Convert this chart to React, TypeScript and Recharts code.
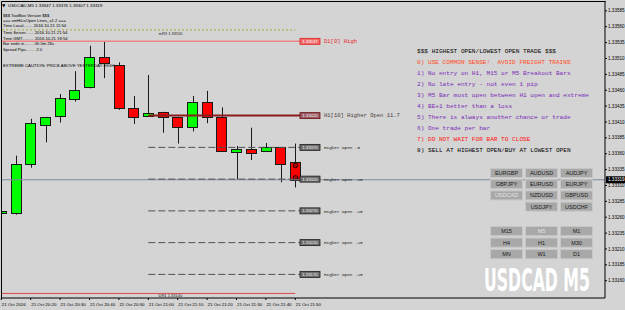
import React from 'react';
import { ComposedChart, Bar, XAxis, YAxis, ReferenceLine, ReferenceDot } from 'recharts';

const symbol = 'USDCAD';
const period = 'M5';
const times = ['20:10','20:15','20:20','20:25','20:30','20:35','20:40','20:45','20:50','20:55','21:00','21:05','21:10','21:15','21:20','21:25','21:30','21:35','21:40','21:45','21:50'];
const opens  = [1.33267,1.33267,1.33344,1.33406,1.33418,1.33447,1.33465,1.33513,1.33500,1.33432,1.33419,1.33426,1.33418,1.33402,1.33441,1.33418,1.33364,1.33367,1.33364,1.33370,1.33347];
const highs  = [1.33272,1.33357,1.33415,1.33418,1.33454,1.33490,1.33530,1.33537,1.33504,1.33451,1.33484,1.33426,1.33418,1.33451,1.33459,1.33433,1.33372,1.33401,1.33377,1.33370,1.33376];
const lows   = [1.33264,1.33264,1.33338,1.33378,1.33409,1.33442,1.33463,1.33479,1.33429,1.33407,1.33419,1.33393,1.33376,1.33395,1.33408,1.33365,1.33319,1.33350,1.33364,1.33315,1.33307];
const closes = [1.33270,1.33344,1.33409,1.33418,1.33447,1.33461,1.33513,1.33504,1.33432,1.33418,1.33424,1.33418,1.33402,1.33441,1.33418,1.33365,1.33368,1.33361,1.33370,1.33344,1.33319];

const xTicks = [0,2,4,6,8,10,12,14,16,18,20];
const xTickLabels = ['21 Oct 2016','21 Oct 20:20','21 Oct 20:30','21 Oct 20:40','21 Oct 20:50','21 Oct 21:00','21 Oct 21:10','21 Oct 21:20','21 Oct 21:30','21 Oct 21:40','21 Oct 21:50'];
const yTicks = [1.33160,1.33185,1.33210,1.33235,1.33260,1.33285,1.33310,1.33335,1.33360,1.33385,1.33410,1.33435,1.33460,1.33485,1.33510,1.33535,1.33560,1.33585];

const mR3 = 1.33555;
const d1High = 1.33537;
const h1Open = 1.33420;
const h1Label = 'H1[10] Higher Open 11.7';
const higherOpens = [1.33370,1.33320,1.33270,1.33220,1.33170];
const higherLabels = ['Higher Open -5','Higher Open -10','Higher Open -15','Higher Open -20','Higher Open -25'];
const dr1 = 1.33140;
const bid = 1.33319;
const h1StartBar = 10;
const lineEndBar = 20.32;
const lastBar = 20;

const infoLines = ['$$$ ToolBox Version $$$','=== smHiLoOpen Lines_v1.2 ===','Time Local........ 2016.10.21 11:54','Time Server....... 2016.10.21 21:54','Time GMT.......... 2016.10.21 18:54','Bar ends in........ 0h 0m 26s','Spread Pips........ 2.0'];
const cautionText = 'EXTREME CAUTION: PRICE ABOVE YESTERDAY HIGH';
const rules = ['$$$ HIGHEST OPEN/LOWEST OPEN TRADE $$$','0) USE COMMON SENSE!  AVOID FREIGHT TRAINS','1) No entry on H1, M15 or M5 Breakout Bars','2) No late entry - not even 1 pip','3) M5 Bar must open between H1 open and extreme','4) BE+1 better than a loss','5) There is always another chance or trade','6) One trade per bar','7) DO NOT WAIT FOR BAR TO CLOSE','8) SELL AT HIGHEST OPEN/BUY AT LOWEST OPEN'];
const ruleColors = ['#000000','#ff4a1c','#7a2ab8','#7a2ab8','#7a2ab8','#7a2ab8','#7a2ab8','#7a2ab8','#ff1010','#000000'];
const pairButtons = [['EURGBP','AUDUSD','AUDJPY'],['GBPJPY','EURUSD','EURJPY'],['USDCAD','NZDUSD','GBPUSD'],['','USDJPY','USDCHF']];
const tfButtons = [['M15','M5','M1'],['H4','H1','M30'],['MN','W1','D1']];

const data = times.map((t, i) => ({ i, t, o: opens[i], h: highs[i], l: lows[i], c: closes[i] }));

const xMin = 0.048;
const xMax = 41.07;
const yMin = 1.331328;
const yMax = 1.336005;

const Candle = (props: any) => {
  const { x, y, width, height, payload } = props;
  const { o, h, l, c, i } = payload;
  const py = (v: number) => y + ((h - v) / (h - l)) * height;
  const cx = Math.round(x + width / 2) + 0.5;
  const top = py(Math.max(o, c));
  const bot = py(Math.min(o, c));
  const up = c >= o;
  const bx = Math.round(x) + 0.5;
  const bw = Math.round(width) - 1;
  return (
    <g>
      <line x1={cx} x2={cx} y1={y} y2={y + height} stroke="#1a1a1a" strokeWidth={1} />
      <rect x={bx} y={Math.round(top) + 0.5} width={bw} height={Math.max(Math.round(bot - top), 1)} fill={up ? '#00ff00' : '#ff0000'} stroke="#1a1a1a" strokeWidth={1} />
      {i === lastBar ? (
        <g>
          <circle cx={cx} cy={top + 3.5} r={2.3} fill="#b00000" stroke="#000" strokeWidth={0.8} />
          <circle cx={cx} cy={bot - 2} r={2.3} fill="#b00000" stroke="#000" strokeWidth={0.8} />
        </g>
      ) : null}
    </g>
  );
};

const XTick = (props: any) => {
  const { x, y, payload } = props;
  const idx = xTicks.indexOf(payload.value);
  return (
    <text x={x + 0.5} y={y + 3.5} fontSize={4.4} fontFamily="Liberation Sans, Arial, sans-serif" fill="#000" textAnchor="start">
      {xTickLabels[idx]}
    </text>
  );
};

const boxLabel = (value: number, text: string, boxFill: string, boxStroke: string, textFill: string, labelFill: string, labelSize: number) => (p: any) => {
  const { cx, cy } = p;
  return (
    <g>
      <rect x={cx} y={cy - 3} width={20} height={6} fill={boxFill} stroke={boxStroke} strokeWidth={0.8} />
      <text x={cx + 10} y={cy + 1.6} fontSize={4.3} fontFamily="Liberation Sans, Arial, sans-serif" fill={textFill} textAnchor="middle">
        {value.toFixed(5)}
      </text>
      <text x={cx + 24} y={cy + 1.8} fontSize={labelSize} fontFamily="Liberation Mono, Courier New, monospace" fill={labelFill}>
        {text}
      </text>
    </g>
  );
};

const bidBox = (p: any) => {
  const { cx, cy } = p;
  return (
    <g>
      <rect x={cx + 1} y={cy - 3.5} width={19} height={7} fill="#000" />
      <text x={cx + 3} y={cy + 1.6} fontSize={4.6} fontFamily="Liberation Sans, Arial, sans-serif" fill="#fff">
        {bid.toFixed(5)}
      </text>
    </g>
  );
};

const textLabel = (text: string, dx: number, dy: number) => (p: any) => {
  const { cx, cy } = p;
  return (
    <text x={cx + dx} y={cy + dy} fontSize={4} fontFamily="Liberation Sans, Arial, sans-serif" fill="#222">
      {text}
    </text>
  );
};

export default function App() {
  const last = data[data.length - 1];
  const header = `${symbol},${period}  ${last.o.toFixed(5)} ${last.h.toFixed(5)} ${last.l.toFixed(5)} ${last.c.toFixed(5)}`;
  return (
    <div style={{ position: 'absolute', left: 0, top: 0, width: 625, height: 310, background: '#d4d4d4', overflow: 'hidden' }}>
      <ComposedChart width={625} height={310} data={data} margin={{ top: 1, right: 0, bottom: 0, left: 2 }}>
        <XAxis
          type="number"
          dataKey="i"
          domain={[xMin, xMax]}
          ticks={xTicks}
          allowDataOverflow
          height={12}
          tickSize={2}
          tickLine={{ stroke: '#000' }}
          axisLine={{ stroke: '#000' }}
          tick={<XTick />}
          interval={0}
        />
        <YAxis
          orientation="right"
          type="number"
          domain={[yMin, yMax]}
          ticks={yTicks}
          allowDataOverflow
          width={20}
          tickSize={2}
          tickMargin={1}
          tickLine={{ stroke: '#000' }}
          axisLine={{ stroke: '#000' }}
          tick={{ fontSize: 4.6, fill: '#000', fontFamily: 'Liberation Sans, Arial, sans-serif' }}
          tickFormatter={(v: number) => v.toFixed(5)}
          interval={0}
        />
        <ReferenceLine y={bid} stroke="#7d8c9c" strokeWidth={1} ifOverflow="visible" />
        <ReferenceLine segment={[{ x: xMin, y: mR3 }, { x: lastBar, y: mR3 }]} stroke="#a8a838" strokeDasharray="2 2" ifOverflow="visible" />
        <ReferenceLine segment={[{ x: xMin, y: d1High }, { x: lineEndBar, y: d1High }]} stroke="#ef8484" strokeWidth={1.5} ifOverflow="visible" />
        <ReferenceLine segment={[{ x: xMin, y: dr1 }, { x: lastBar, y: dr1 }]} stroke="#e04848" strokeWidth={1} ifOverflow="visible" />
        {higherOpens.map((v, k) => (
          <ReferenceLine key={'ho' + k} segment={[{ x: h1StartBar, y: v }, { x: lineEndBar, y: v }]} stroke="#505050" strokeDasharray="7 3" ifOverflow="visible" />
        ))}
        <Bar dataKey={(d: any) => [d.l, d.h]} barSize={11} shape={Candle} isAnimationActive={false} />
        <ReferenceLine segment={[{ x: h1StartBar, y: h1Open }, { x: lineEndBar, y: h1Open }]} stroke="#8a1c1c" strokeWidth={2} ifOverflow="visible" />
        <ReferenceDot x={lineEndBar} y={d1High} r={0} ifOverflow="visible" shape={boxLabel(d1High, 'D1[0] High', '#f06a6a', '#e02020', '#ffffff', '#e82828', 5.5)} />
        <ReferenceDot x={lineEndBar} y={h1Open} r={0} ifOverflow="visible" shape={boxLabel(h1Open, h1Label, '#9a5a66', '#6a1010', '#f0f0f0', '#4a3a3a', 5.5)} />
        {higherOpens.map((v, k) => (
          <ReferenceDot key={'hd' + k} x={lineEndBar} y={v} r={0} ifOverflow="visible" shape={boxLabel(v, higherLabels[k], '#6e6e6e', '#1a1a1a', '#eeeeee', '#111', 4.3)} />
        ))}
        <ReferenceDot x={10.7} y={mR3} r={0} ifOverflow="visible" shape={textLabel('mR3  ' + mR3.toFixed(5), 0, 4.8)} />
        <ReferenceDot x={10.7} y={dr1} r={0} ifOverflow="visible" shape={textLabel('DR1  ' + dr1.toFixed(5), 0, 3.8)} />
        <ReferenceDot x={xMax} y={bid} r={0} ifOverflow="visible" shape={bidBox} />
      </ComposedChart>
      <svg width={625} height={310} style={{ position: 'absolute', left: 0, top: 0, pointerEvents: 'none' }}>
        <line x1={1.5} x2={605.5} y1={1.5} y2={1.5} stroke="#000" />
        <line x1={1.5} x2={1.5} y1={1.5} y2={298.5} stroke="#000" />
        <text x={2} y={6.6} fontSize={4.4} fontFamily="DejaVu Sans, sans-serif" fill="#000">▼</text>
        <text x={8} y={6.6} fontSize={4.4} fontFamily="Liberation Sans, Arial, sans-serif" fill="#000">{header}</text>
        {infoLines.map((s, k) => (
          <text key={'in' + k} x={3} y={[17.2, 22.2, 27.2, 34.2, 39.5, 44.8, 50.5][k]} fontSize={4.2} fontFamily="Liberation Sans, Arial, sans-serif" fill="#000">{s}</text>
        ))}
        <text x={3} y={66.5} fontSize={4.3} fontFamily="Liberation Sans, Arial, sans-serif" fill="#000">{cautionText}</text>
        {rules.map((s, k) => (
          <text key={'r' + k} x={417} y={[52.8, 64, 75.3, 86, 97, 108, 119, 130.3, 141, 151.7][k]} fontSize={6.1} fontFamily="Liberation Mono, Courier New, monospace" fill={ruleColors[k]} xmlSpace="preserve" style={{ whiteSpace: 'pre' }}>{s}</text>
        ))}
        {pairButtons.map((row, r) => row.map((b, c) => b ? (
          <g key={'pb' + r + c}>
            <rect x={490.5 + c * 35} y={168.5 + r * 11.2} width={32} height={9} fill="#a8a8a8" stroke="#c6c6c6" strokeWidth={1} />
            <text x={506.5 + c * 35} y={175 + r * 11.2} fontSize={5.5} textAnchor="middle" fontFamily="Liberation Sans, Arial, sans-serif" fill={b === symbol ? '#e4e4e4' : '#1a1a1a'}>{b}</text>
          </g>
        ) : null))}
        {tfButtons.map((row, r) => row.map((b, c) => (
          <g key={'tb' + r + c}>
            <rect x={490.5 + c * 35} y={226.5 + r * 11.5} width={32} height={9.2} fill="#a8a8a8" stroke="#c6c6c6" strokeWidth={1} />
            <text x={506.5 + c * 35} y={233.2 + r * 11.5} fontSize={5.5} textAnchor="middle" fontFamily="Liberation Sans, Arial, sans-serif" fill={b === period ? '#e4e4e4' : '#1a1a1a'}>{b}</text>
          </g>
        )))}
        <g transform="translate(484,290.5) scale(0.76,1.4)">
          <text x={0} y={0} fontSize={23} fontWeight="bold" fontFamily="DejaVu Sans Condensed, sans-serif" fill="#ffffff">{symbol + ' ' + period}</text>
        </g>
      </svg>
    </div>
  );
}
